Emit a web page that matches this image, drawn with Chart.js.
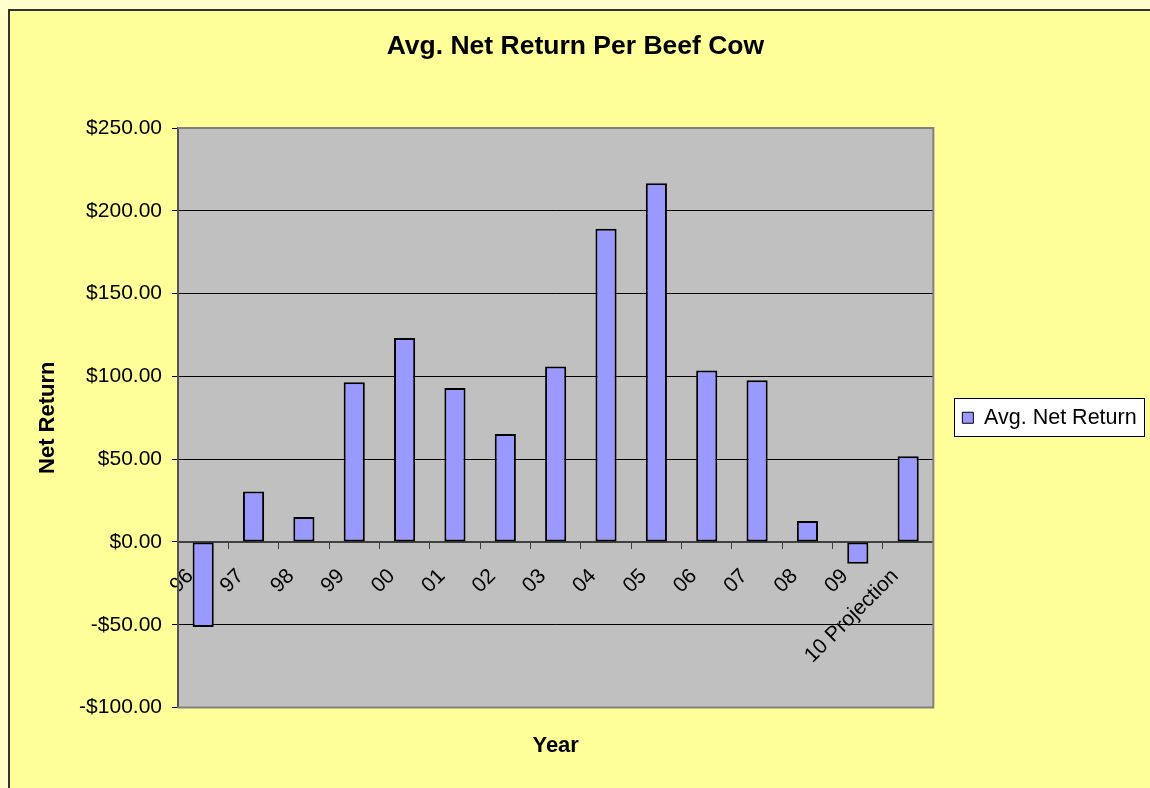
<!DOCTYPE html>
<html>
<head>
<meta charset="utf-8">
<script src="https://cdn.jsdelivr.net/npm/chart.js@4"></script>
<style>
html,body{margin:0;padding:0;background:#FFFFCC;}
#wrap{width:1150px;height:788px;}
</style>
</head>
<body>
<div id="wrap"><canvas id="c" width="1150" height="788"></canvas></div>
<script>
const categories = ['96','97','98','99','00','01','02','03','04','05','06','07','08','09','10 Projection'];
const netReturn = [-51.4, 30.5, 15.0, 96.4, 123.1, 92.9, 65.2, 106.0, 189.1, 216.7, 103.6, 97.6, 12.6, -13.2, 51.7];
const seriesName = 'Avg. Net Return';
const chartTitle = 'Avg. Net Return Per Beef Cow';
const xTitle = 'Year';
const yTitle = 'Net Return';
const yMin = -100, yMax = 250, yStep = 50;

const FONT = "'Liberation Sans', Arial, sans-serif";
Chart.defaults.font.family = FONT;
Chart.defaults.color = '#000';

const bgPlugin = {
  id: 'bgPlugin',
  beforeDraw(chart) {
    const ctx = chart.ctx, a = chart.chartArea;
    ctx.save();
    ctx.fillStyle = '#FFFFCC';
    ctx.fillRect(0, 0, chart.width, chart.height);
    ctx.fillStyle = '#FFFF99';
    ctx.fillRect(9, 10, chart.width, chart.height);
    ctx.strokeStyle = '#333333';
    ctx.lineWidth = 2;
    ctx.strokeRect(9, 10, chart.width + 20, chart.height + 20);
    ctx.fillStyle = '#C0C0C0';
    ctx.fillRect(a.left, a.top, a.right - a.left, a.bottom - a.top);
    const lg = chart.legend;
    const hb = lg && lg.legendHitBoxes && lg.legendHitBoxes[0];
    if (hb) {
      const cy = hb.top + hb.height / 2;
      const x0 = Math.round(hb.left - 8) + 0.5;
      const y0 = Math.round(cy - 20) + 0.5;
      const w = Math.round(hb.width + 16);
      ctx.fillStyle = '#FFFFFF';
      ctx.fillRect(x0, y0, w, 38);
      ctx.strokeStyle = '#000000';
      ctx.lineWidth = 1;
      ctx.strokeRect(x0, y0, w, 38);
    }
    ctx.restore();
  },
  beforeDatasetsDraw(chart) {
    const ctx = chart.ctx, a = chart.chartArea;
    ctx.save();
    ctx.strokeStyle = '#808080';
    ctx.lineWidth = 2;
    ctx.beginPath();
    ctx.moveTo(a.left, a.top);
    ctx.lineTo(a.right, a.top);
    ctx.lineTo(a.right, a.bottom);
    ctx.lineTo(a.left, a.bottom);
    ctx.stroke();
    ctx.restore();
  }
};

new Chart(document.getElementById('c'), {
  type: 'bar',
  data: {
    labels: categories,
    datasets: [{
      label: seriesName,
      data: netReturn,
      backgroundColor: '#9999FF',
      borderColor: '#000000',
      borderWidth: 2,
      borderSkipped: false,
      barPercentage: 0.42,
      categoryPercentage: 1.0
    }]
  },
  options: {
    responsive: false,
    devicePixelRatio: 1,
    animation: false,
    layout: { padding: { left: 10, top: 10, right: 9.2, bottom: 0 } },
    plugins: {
      tooltip: { enabled: false },
      title: {
        display: true,
        text: chartTitle,
        color: '#000',
        font: { size: 26.5, weight: 'bold', family: FONT },
        padding: { top: 20.5, bottom: 65.7 }
      },
      legend: {
        position: 'right',
        fullSize: false,
        labels: {
          boxWidth: 11,
          boxHeight: 11,
          padding: 10,
          color: '#000',
          font: { size: 21.5, family: FONT },
          generateLabels(chart) {
            const items = Chart.defaults.plugins.legend.labels.generateLabels(chart);
            items.forEach(it => { it.lineWidth = 1; it.strokeStyle = '#000'; });
            return items;
          }
        }
      }
    },
    scales: {
      x: {
        type: 'category',
        position: { y: 0 },
        offset: true,
        grid: { drawOnChartArea: false, drawTicks: true, tickLength: 6, color: '#404040', offset: true },
        border: { display: true, color: '#404040', width: 2 },
        ticks: {
          color: '#000',
          font: { size: 21, family: FONT },
          minRotation: 45,
          maxRotation: 45,
          autoSkip: false,
          padding: 16,
          labelOffset: -13
        }
      },
      xt: {
        type: 'category',
        labels: categories,
        position: 'bottom',
        grid: { display: false, drawTicks: false },
        border: { display: false },
        ticks: { display: false },
        title: {
          display: true,
          text: xTitle,
          color: '#000',
          font: { size: 22, weight: 'bold', family: FONT },
          padding: { top: 25.3, bottom: 28.8 }
        }
      },
      y: {
        type: 'linear',
        position: 'left',
        min: yMin,
        max: yMax,
        afterFit(s) { s.width = 168; },
        grid: {
          color: c => (c.tick && (c.tick.value === yMax || c.tick.value === yMin)) ? 'rgba(0,0,0,0)' : '#000000',
          tickColor: '#000000',
          tickLength: 6,
          lineWidth: 1
        },
        border: { display: true, color: '#555555', width: 2 },
        ticks: {
          stepSize: yStep,
          padding: 10,
          color: '#000',
          font: { size: 21, family: FONT },
          callback: v => (v < 0 ? '-$' : '$') + Math.abs(v).toFixed(2)
        },
        title: {
          display: true,
          text: yTitle,
          color: '#000',
          font: { size: 22, weight: 'bold', family: FONT },
          padding: { top: 24.8, bottom: 0 }
        }
      },
      yr: {
        type: 'linear',
        position: 'right',
        display: true,
        afterFit(s) { s.width = 19; },
        grid: { display: false, drawTicks: false },
        border: { display: false },
        ticks: { display: false }
      }
    }
  },
  plugins: [bgPlugin]
});
</script>
</body>
</html>
